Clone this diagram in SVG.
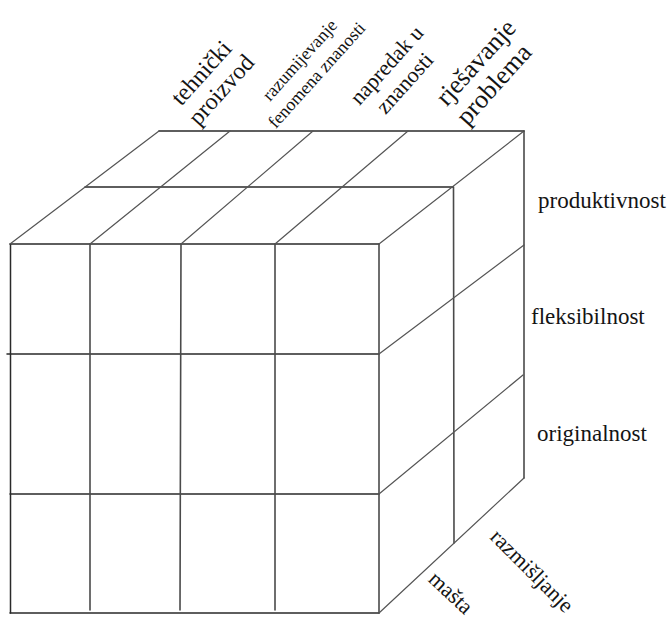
<svg xmlns="http://www.w3.org/2000/svg" width="671" height="621" viewBox="0 0 671 621">
<style>
.bg{fill:#ffffff}
.edge{stroke:#2a2a2a;stroke-width:1.5;fill:none;stroke-linecap:round}
.thin{stroke:#555555;stroke-width:1.2;fill:none;stroke-linecap:round}
.vert{stroke:#4a4a4a;stroke-width:1.6;fill:none;stroke-linecap:round}
.t{font-family:'Liberation Serif','DejaVu Serif',serif;fill:#141414}
.lbl{font-size:23px}
.top{text-anchor:middle}
</style>
<rect class="bg" x="0" y="0" width="671" height="621"/>
<g id="connectors">
  <line class="edge" x1="10" y1="244" x2="379" y2="244"/>
  <line class="edge" x1="7" y1="354" x2="379" y2="354"/>
  <line class="edge" x1="10" y1="494" x2="379" y2="494"/>
  <line class="edge" x1="10" y1="613" x2="379" y2="613"/>
  <line class="edge" x1="10.5" y1="244" x2="10.5" y2="613"/>
  <line class="vert" x1="90" y1="244" x2="90" y2="610"/>
  <line class="vert" x1="181" y1="244" x2="180" y2="610"/>
  <line class="vert" x1="275" y1="244" x2="275" y2="610"/>
  <line class="vert" x1="379" y1="244" x2="379" y2="613"/>
  <line class="edge" x1="159" y1="131" x2="524" y2="131"/>
  <line class="edge" x1="85" y1="187" x2="453" y2="187"/>
  <line class="thin" x1="10" y1="244" x2="159" y2="131"/>
  <line class="thin" x1="90" y1="244" x2="230" y2="131"/>
  <line class="thin" x1="181" y1="244" x2="313" y2="131"/>
  <line class="thin" x1="275" y1="244" x2="408" y2="131"/>
  <line class="thin" x1="379" y1="244" x2="524" y2="131"/>
  <line class="vert" x1="453.5" y1="187" x2="454" y2="543"/>
  <line class="vert" x1="524" y1="131" x2="524" y2="478"/>
  <line class="thin" x1="379" y1="354" x2="524" y2="245"/>
  <line class="thin" x1="379" y1="494" x2="523" y2="375"/>
  <line class="thin" x1="379" y1="613" x2="524" y2="478"/>
</g>
<g id="top-labels">
  <g id="tehnicki-proizvod">
    <text class="t top" font-size="24" transform="translate(207,78) rotate(-48)">tehnički</text>
    <text class="t top" font-size="24" transform="translate(227,95) rotate(-48)">proizvod</text>
  </g>
  <g id="razumijevanje">
    <text class="t top" font-size="18" transform="translate(304,64) rotate(-48)">razumijevanje</text>
    <text class="t top" font-size="18" transform="translate(321,79) rotate(-48)">fenomena znanosti</text>
  </g>
  <g id="napredak">
    <text class="t top" font-size="22" transform="translate(392,70) rotate(-48)">napredak u</text>
    <text class="t top" font-size="22" transform="translate(410,88) rotate(-48)">znanosti</text>
  </g>
  <g id="rjesavanje">
    <text class="t top" font-size="26" transform="translate(482,68) rotate(-48)">rješavanje</text>
    <text class="t top" font-size="26" transform="translate(500,90) rotate(-48)">problema</text>
  </g>
</g>
<g id="right-labels">
  <text id="produktivnost" class="t lbl" x="538" y="208">produktivnost</text>
  <text id="fleksibilnost" class="t lbl" x="531" y="324">fleksibilnost</text>
  <text id="originalnost" class="t lbl" x="537" y="441">originalnost</text>
</g>
<g id="bottom-labels">
  <text id="masta" class="t top" font-size="22" transform="translate(446,598) rotate(43)">mašta</text>
  <text id="razmisljanje" class="t top" font-size="22" transform="translate(527,576) rotate(45)">razmišljanje</text>
</g>
</svg>
